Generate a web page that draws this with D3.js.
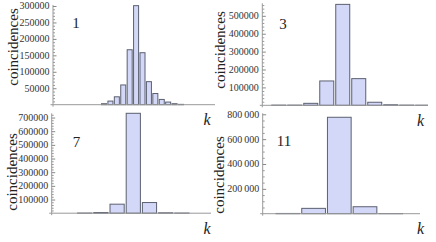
<!DOCTYPE html>
<html>
<head>
<meta charset="utf-8">
<script src="https://cdn.jsdelivr.net/npm/d3@7"></script>
<style>
  body { margin: 0; background: #fff; }
  svg text { font-family: "Liberation Serif", "Times New Roman", serif; }
</style>
</head>
<body>
<script>
// panel tags
var panelNames = ["1", "3", "7", "11"];

// bin index (k) and coincidence counts for each panel
var k1 = [-5, -4, -3, -2, -1, 0, 1, 2, 3, 4, 5, 6, 7];
var c1 = [3000, 11000, 24000, 60000, 167000, 301000, 158000, 70000, 34000, 16000, 8000, 3000, 1000];

var k3 = [-4, -3, -2, -1, 0, 1, 2, 3, 4, 5];
var c3 = [1000, 1000, 11000, 136000, 564000, 149000, 17000, 3000, 1000, 500];

var k7 = [-3, -2, -1, 0, 1, 2, 3];
var c7 = [1000, 5000, 66000, 731000, 78000, 3000, 1000];

var k11 = [-2, -1, 0, 1, 2];
var c11 = [2000, 43000, 776000, 56000, 1000];

// y tick values
var ticks1 = [50000, 100000, 150000, 200000, 250000, 300000];
var ticks3 = [100000, 200000, 300000, 400000, 500000];
var ticks7 = [100000, 200000, 300000, 400000, 500000, 600000, 700000];
var ticks11 = [200000, 400000, 600000, 800000];

var width = 436, height = 242;

var svg = d3.select("body").append("svg")
    .attr("width", width)
    .attr("height", height);

// layout of the four panels (axes corner, extents, scale domains)
var panels = [
    {name: panelNames[0], k: k1, c: c1, ticks: ticks1, minor: 10000, sep: "",
     x0: 53, x1: 215, yBase: 104.7, yTop: 5, kMin: -12.95, kMax: 12.3, yMax: 303000,
     labX: 18, labY: 47, numX: 76, numY: 28, kX: 203.5, kY: 125},
    {name: panelNames[1], k: k3, c: c3, ticks: ticks3, minor: 20000, sep: "",
     x0: 262.3, x1: 428, yBase: 105.3, yTop: 3.3, kMin: -5.03, kMax: 5.33, yMax: 570000,
     labX: 225, labY: 50, numX: 283, numY: 29, kX: 417, kY: 126},
    {name: panelNames[2], k: k7, c: c7, ticks: ticks7, minor: 20000, sep: "",
     x0: 51.7, x1: 211, yBase: 213.2, yTop: 113.3, kMin: -5.04, kMax: 4.8, yMax: 731000,
     labX: 17, labY: 172, numX: 76.5, numY: 146.5, kX: 203.5, kY: 234},
    {name: panelNames[3], k: k11, c: c11, ticks: ticks11, minor: 50000, sep: "\u2009",
     x0: 262.7, x1: 420, yBase: 213.7, yTop: 113.3, kMin: -2.98, kMax: 3.14, yMax: 808000,
     labX: 224, labY: 175, numX: 284, numY: 146, kX: 417, kY: 234}
];

var scalesY = [];

panels.forEach(function (p, idx) {
    var g = svg.append("g").attr("class", "panel");

    var x = d3.scaleLinear().domain([p.kMin, p.kMax]).range([p.x0, p.x1]);
    var y = d3.scaleLinear().domain([0, p.yMax]).range([p.yBase, p.yTop]);
    scalesY.push(y);

    var clipId = "clip" + idx;
    g.append("clipPath").attr("id", clipId)
        .append("rect")
        .attr("x", p.x0).attr("y", 0)
        .attr("width", p.x1 - p.x0).attr("height", p.yBase + 2);

    // bars
    var step = x(1) - x(0);
    var inset = step > 12 ? 1 : 0.7;
    g.append("g")
        .attr("clip-path", "url(#" + clipId + ")")
        .selectAll("rect")
        .data(p.k.map(function (k, i) { return {k: k, v: p.c[i]}; }))
        .enter()
        .append("rect")
        .attr("x", function (d) { return x(d.k - 0.5) + inset; })
        .attr("width", step - 2 * inset)
        .attr("y", function (d) { return y(d.v); })
        .attr("height", function (d) { return Math.max(0, y(0) - y(d.v)); })
        .style("fill", "#d4d8f8")
        .style("stroke", "#5b6070")
        .style("stroke-width", 1);

    // x axis line (no ticks)
    g.append("line")
        .attr("x1", p.x0 - 2.5).attr("x2", p.x1)
        .attr("y1", p.yBase).attr("y2", p.yBase)
        .style("stroke", "#999")
        .style("stroke-width", 1);

    // y axis line
    g.append("line")
        .attr("x1", p.x0).attr("x2", p.x0)
        .attr("y1", p.yTop).attr("y2", p.yBase + 2)
        .style("stroke", "#999")
        .style("stroke-width", 1);

    // minor ticks
    var minorTicks = d3.range(p.minor, p.yMax + 1, p.minor).filter(function (v) {
        return p.ticks.indexOf(v) < 0;
    });
    var gm = g.append("g")
        .attr("transform", "translate(" + p.x0 + ",0)")
        .call(d3.axisLeft(y).tickValues(minorTicks).tickSizeInner(-2).tickSizeOuter(0)
            .tickFormat(function () { return ""; }));
    gm.select(".domain").remove();
    gm.selectAll(".tick line").style("stroke", "#999");
    gm.selectAll(".tick text").remove();

    // major ticks (lines only, labels drawn on top later)
    var ga = g.append("g")
        .attr("transform", "translate(" + p.x0 + ",0)")
        .call(d3.axisLeft(y).tickValues(p.ticks).tickSizeInner(-3.5).tickSizeOuter(0)
            .tickFormat(function () { return ""; }));
    ga.select(".domain").remove();
    ga.selectAll(".tick line").style("stroke", "#888");
    ga.selectAll(".tick text").remove();

    // y label
    g.append("text")
        .attr("transform", "translate(" + p.labX + "," + p.labY + ") rotate(-90)")
        .attr("text-anchor", "middle")
        .style("font-size", "15px")
        .style("fill", "#222")
        .text("coincidences");

    // panel number
    g.append("text")
        .attr("x", p.numX).attr("y", p.numY)
        .attr("text-anchor", "middle")
        .style("font-size", "15px")
        .style("fill", "#222")
        .text(p.name);

    // k label
    g.append("text")
        .attr("x", p.kX).attr("y", p.kY)
        .style("font-size", "16px")
        .style("font-style", "italic")
        .style("fill", "#222")
        .text("k");
});

// tick labels, on top of everything
panels.forEach(function (p, idx) {
    var y = scalesY[idx];
    svg.append("g")
        .attr("class", "tick-labels")
        .selectAll("text")
        .data(p.ticks)
        .enter()
        .append("text")
        .attr("x", p.x0 - 3.5)
        .attr("y", function (d) { return y(d) + 3.4; })
        .attr("text-anchor", "end")
        .style("font-size", "10px")
        .style("fill", "#333")
        .text(function (d) {
            var s = String(d);
            return p.sep ? s.slice(0, -3) + p.sep + s.slice(-3) : s;
        });
});
</script>
</body>
</html>
